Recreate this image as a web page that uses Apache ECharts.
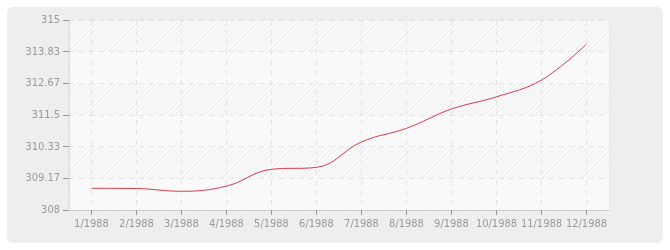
<!DOCTYPE html>
<html><head><meta charset="utf-8">
<script src="https://cdn.jsdelivr.net/npm/echarts@6/dist/echarts.min.js"></script>
<style>
html,body{margin:0;padding:0;background:#fff;width:670px;height:250px;overflow:hidden}
#panel{position:absolute;left:7px;top:7px;width:656px;height:236px;background:#eeeeee;border-radius:6px}
#c{position:absolute;left:0;top:0;width:670px;height:250px}
</style></head>
<body><div id="panel"></div><div id="c"></div>
<script>
var categories = ['1/1988','2/1988','3/1988','4/1988','5/1988','6/1988','7/1988','8/1988','9/1988','10/1988','11/1988','12/1988'];
var values = [308.80, 308.79, 308.69, 308.88, 309.50, 309.57, 310.51, 311.01, 311.72, 312.17, 312.79, 314.11];
var yTickLabels = ['308','309.17','310.33','311.5','312.67','313.83','315'];
var yMin = 308, yMax = 315;

function hatch(bg, line){
  var c = document.createElement('canvas');
  c.width = 5; c.height = 5;
  var g = c.getContext('2d');
  g.fillStyle = bg; g.fillRect(0,0,5,5);
  g.strokeStyle = line; g.lineWidth = 1;
  g.beginPath();
  g.moveTo(-1,6); g.lineTo(6,-1);
  g.moveTo(-1,1); g.lineTo(1,-1);
  g.moveTo(4,6); g.lineTo(6,4);
  g.stroke();
  return {image:c, repeat:'repeat'};
}
var step = (yMax - yMin) / (yTickLabels.length - 1);
var font = 'DejaVu Sans Condensed';
var chart = echarts.init(document.getElementById('c'), null, {renderer:'canvas'});
chart.setOption({
  animation:false,
  backgroundColor:'transparent',
  grid:{left:69, top:20, width:540, height:190, show:true, borderColor:'#e2e2e2', borderWidth:1, backgroundColor:'#fbfbfb'},
  xAxis:{
    type:'category', data:categories, boundaryGap:true,
    axisLine:{show:true, lineStyle:{color:'#cccccc'}},
    axisTick:{show:true, alignWithLabel:true, length:5, lineStyle:{color:'#999999'}},
    axisLabel:{color:'#999999', fontFamily:font, fontSize:11, margin:9, interval:0},
    splitLine:{show:true, alignWithLabel:true, interval:0, lineStyle:{color:'#e4e4e4', type:[5,5]}}
  },
  yAxis:{
    type:'value', min:yMin, max:yMax, interval:step,
    axisLine:{show:true, lineStyle:{color:'#dddddd'}},
    axisTick:{show:true, length:6, lineStyle:{color:'#999999'}},
    axisLabel:{color:'#999999', fontFamily:font, fontSize:11, margin:9,
      formatter:function(v){ return yTickLabels[Math.round((v - yMin)/step)]; }},
    splitLine:{show:true, lineStyle:{color:'#e4e4e4', type:[5,5]}},
    splitArea:{show:true, areaStyle:{color:[hatch('#fbfbfb','#f3f3f3'), hatch('#f9f9f9','#ececec')]}}
  },
  series:[{
    type:'line', data:values, smooth:0.4, showSymbol:false,
    lineStyle:{color:'#d93a4c', width:1}
  }]
});
</script></body></html>
